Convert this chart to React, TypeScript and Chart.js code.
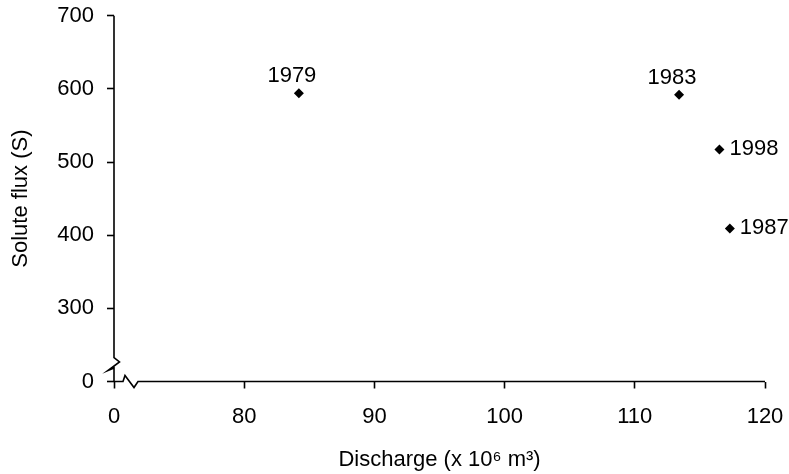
import React, { useEffect, useRef } from 'react';
import { Chart, registerables } from 'chart.js';

Chart.register(...registerables);

// Data
const years = ['1979', '1983', '1998', '1987'];
const discharge = [84.2, 113.4, 116.5, 117.3];
const soluteFlux = [594, 592, 517, 409];
const labelSide = ['above', 'above', 'right', 'right'];

// Broken axes: the first tick of each axis stands for 0
const xTickValues = [70, 80, 90, 100, 110, 120];
const xTickLabels = ['0', '80', '90', '100', '110', '120'];
const yTickValues = [200, 300, 400, 500, 600, 700];
const yTickLabels = ['0', '300', '400', '500', '600', '700'];

const xTitle = 'Discharge (x 10\u2076 m\u00B3)';
const yTitle = 'Solute flux (S)';

const FONT_FAMILY = "'Liberation Sans', Arial, Helvetica, sans-serif";
const FONT_SIZE = 22;
const INK = '#000';

export default function App() {
  const ref = useRef<HTMLCanvasElement>(null);

  useEffect(() => {
    document.body.style.margin = '0';
    const canvas = ref.current;
    if (!canvas) return;

    const axesPlugin = {
      id: 'brokenAxes',
      afterDraw(chart: any) {
        const c = chart.ctx;
        const xs = chart.scales.x;
        const ys = chart.scales.y;
        const x0 = xs.getPixelForValue(xTickValues[0]);
        const xEnd = xs.getPixelForValue(xTickValues[xTickValues.length - 1]);
        const y0 = ys.getPixelForValue(yTickValues[0]);
        const yTop = ys.getPixelForValue(yTickValues[yTickValues.length - 1]);
        c.save();
        c.strokeStyle = INK;
        c.lineWidth = 1.6;
        c.lineJoin = 'miter';
        // y axis with break
        c.beginPath();
        c.moveTo(x0, yTop);
        c.lineTo(x0, y0 - 24);
        c.lineTo(x0 + 5.5, y0 - 19.5);
        c.lineTo(x0 - 6, y0 - 11);
        c.lineTo(x0, y0 - 13.5);
        c.lineTo(x0, y0);
        c.stroke();
        // x axis with break
        c.beginPath();
        c.moveTo(x0, y0);
        c.lineTo(x0 + 9, y0);
        c.lineTo(x0 + 11, y0 - 6);
        c.lineTo(x0 + 20, y0 + 6);
        c.lineTo(x0 + 24, y0);
        c.lineTo(xEnd, y0);
        c.stroke();

        // point labels
        const meta = chart.getDatasetMeta(0);
        c.fillStyle = INK;
        c.font = `${FONT_SIZE}px ${FONT_FAMILY}`;
        meta.data.forEach((pt: any, i: number) => {
          const { x, y } = pt.getProps(['x', 'y'], true);
          if (labelSide[i] === 'above') {
            c.textAlign = 'center';
            c.textBaseline = 'alphabetic';
            c.fillText(years[i], x - 7, y - 11);
          } else {
            c.textAlign = 'left';
            c.textBaseline = 'middle';
            c.fillText(years[i], x + 10, y - 1);
          }
        });
        c.restore();
      },
    };

    const tickFont = { family: FONT_FAMILY, size: FONT_SIZE };

    const chart = new Chart(canvas, {
      type: 'scatter',
      data: {
        datasets: [
          {
            label: 'Solute flux',
            data: discharge.map((d, i) => ({ x: d, y: soluteFlux[i] })),
            pointStyle: 'rectRot',
            pointRadius: 5,
            pointHoverRadius: 5,
            pointBackgroundColor: INK,
            pointBorderColor: INK,
            pointBorderWidth: 0,
          },
        ],
      },
      options: {
        animation: false,
        responsive: false,
        maintainAspectRatio: false,
        layout: { padding: { top: 15.7, right: 24, left: 0, bottom: 0 } },
        plugins: {
          legend: { display: false },
          tooltip: { enabled: false },
        },
        scales: {
          x: {
            type: 'linear',
            min: xTickValues[0],
            max: xTickValues[xTickValues.length - 1],
            afterBuildTicks: (scale: any) => {
              scale.ticks = xTickValues.map((v) => ({ value: v }));
            },
            afterFit: (scale: any) => {
              scale.height = 92.5;
              scale.paddingLeft = 0;
              scale.paddingRight = 0;
            },
            grid: {
              display: true,
              drawOnChartArea: false,
              drawTicks: true,
              tickLength: 7,
              tickWidth: 1.6,
              color: INK,
            },
            border: { display: false },
            ticks: {
              color: INK,
              font: tickFont,
              padding: 15,
              maxRotation: 0,
              autoSkip: false,
              callback: (v: any) => {
                const idx = xTickValues.indexOf(Number(v));
                return idx >= 0 ? xTickLabels[idx] : '';
              },
            },
            title: {
              display: true,
              text: xTitle,
              color: INK,
              font: tickFont,
              padding: { top: 0, bottom: 0.5 },
            },
          },
          y: {
            type: 'linear',
            min: yTickValues[0],
            max: yTickValues[yTickValues.length - 1],
            afterBuildTicks: (scale: any) => {
              scale.ticks = yTickValues.map((v) => ({ value: v }));
            },
            afterFit: (scale: any) => {
              scale.width = 114;
              scale.paddingTop = 0;
              scale.paddingBottom = 0;
            },
            grid: {
              display: true,
              drawOnChartArea: false,
              drawTicks: true,
              tickLength: 7,
              tickWidth: 1.6,
              color: INK,
            },
            border: { display: false },
            ticks: {
              color: INK,
              font: tickFont,
              padding: 13,
              autoSkip: false,
              callback: (v: any) => {
                const idx = yTickValues.indexOf(Number(v));
                return idx >= 0 ? yTickLabels[idx] : '';
              },
            },
            title: {
              display: true,
              text: yTitle,
              color: INK,
              font: tickFont,
              padding: { top: 7.8, bottom: 0 },
            },
          },
        },
      },
      plugins: [axesPlugin],
    });

    return () => chart.destroy();
  }, []);

  return (
    <div style={{ width: 789, height: 474, background: '#fff' }}>
      <canvas ref={ref} width={789} height={474} style={{ display: 'block' }} />
    </div>
  );
}
